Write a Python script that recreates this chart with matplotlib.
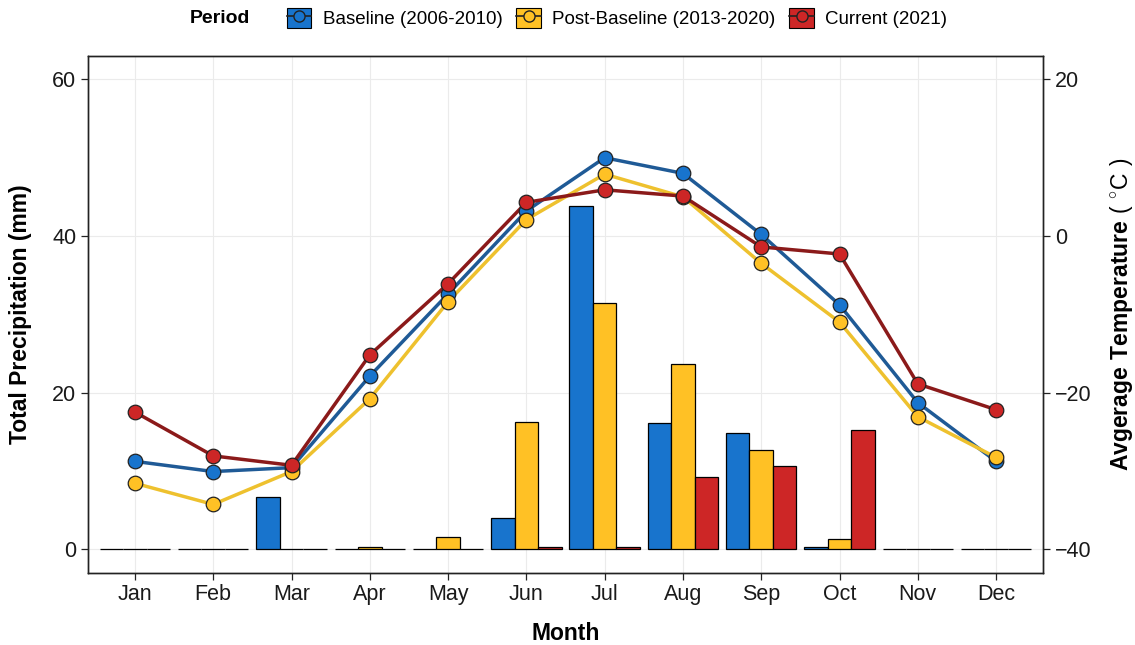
import matplotlib
matplotlib.use('Agg')
import matplotlib.pyplot as plt
from matplotlib.patches import Patch
from matplotlib.lines import Line2D
from matplotlib.legend_handler import HandlerTuple
import numpy as np

plt.rcParams['font.family'] = ['Liberation Sans', 'DejaVu Sans']
plt.rcParams['mathtext.fontset'] = 'custom'
plt.rcParams['mathtext.rm'] = 'Liberation Sans'
plt.rcParams['mathtext.bf'] = 'Liberation Sans:bold'

months = ['Jan', 'Feb', 'Mar', 'Apr', 'May', 'Jun', 'Jul', 'Aug', 'Sep', 'Oct', 'Nov', 'Dec']
periods = ['Baseline (2006-2010)', 'Post-Baseline (2013-2020)', 'Current (2021)']

# total precipitation (mm)
precip_baseline = [0, 0, 6.6, 0, 0, 4.0, 43.8, 16.1, 14.8, 0.2, 0, 0]
precip_post = [0, 0, 0, 0.3, 1.6, 16.2, 31.4, 23.6, 12.6, 1.3, 0, 0]
precip_current = [0, 0, 0, 0, 0, 0.3, 0.3, 9.2, 10.6, 15.2, 0, 0]

# average temperature (deg C)
temp_baseline = [-28.8, -30.1, -29.6, -17.9, -7.4, 3.2, 10.0, 8.0, 0.2, -8.8, -21.3, -28.8]
temp_post = [-31.6, -34.3, -30.1, -20.8, -8.4, 2.1, 7.9, 5.0, -3.5, -11.0, -23.1, -28.3]
temp_current = [-22.5, -28.1, -29.3, -15.2, -6.1, 4.3, 5.9, 5.1, -1.4, -2.3, -18.9, -22.2]

bar_colors = ['#1874CD', '#FFC125', '#CD2626']
line_colors = ['#1F5A96', '#EEC12E', '#8B1A1A']

precip = [precip_baseline, precip_post, precip_current]
temps = [temp_baseline, temp_post, temp_current]

x = np.arange(1, 13)
w = 0.3

fig = plt.figure(figsize=(11.35, 6.45), dpi=100)
ax = fig.add_axes([0.0775, 0.1124, 0.8415, 0.8008])
ax2 = ax.twinx()

for i in range(3):
    ax.bar(x + (i - 1) * w, precip[i], width=w, color=bar_colors[i],
           edgecolor='black', linewidth=0.9, zorder=2)

for i in range(3):
    ax2.plot(x, temps[i], color=line_colors[i], linewidth=2.5, zorder=3)
    ax2.scatter(x, temps[i], s=110, color=bar_colors[i], edgecolor='#222222',
                linewidth=0.9, zorder=4)

ax.set_xlim(0.4, 12.6)
ax.set_ylim(-3, 63)
ax2.set_ylim(-43, 23)
ax.set_yticks([0, 20, 40, 60])
ax2.set_yticks([-40, -20, 0, 20])
ax.set_xticks(x)
ax.set_xticklabels(months)

ax.grid(True, color='#EBEBEB', linewidth=0.8, zorder=0)
ax.set_axisbelow(True)

for a in (ax, ax2):
    a.tick_params(labelsize=15.5, length=5, width=0.9, colors='#222222', labelcolor='#1a1a1a')
    for s in a.spines.values():
        s.set_linewidth(1.0)
        s.set_color('#222222')

ax.set_xlabel('Month', fontsize=16.5, fontweight='bold')
ax.xaxis.set_label_coords(0.5, -0.095)
ax.set_ylabel('Total Precipitation (mm)', fontsize=16.5, fontweight='bold')
ax.yaxis.set_label_coords(-0.0586, 0.5)
ax2.set_ylabel(r'$\mathbf{Avgerage\ Temperature}\ (\ ^{\circ}\mathrm{C}\ )$', fontsize=16.5,
               rotation=90)
ax2.yaxis.set_label_coords(1.068, 0.5)

handles = []
for i in range(3):
    p = Patch(facecolor=bar_colors[i], edgecolor='black', linewidth=0.8)
    l = Line2D([], [], color='#222222', linewidth=1.2, marker='o', markersize=8,
               markerfacecolor=bar_colors[i], markeredgecolor='#222222')
    handles.append((p, l))

fig.legend(handles, periods, loc='center left', bbox_to_anchor=(0.2529, 0.972), ncol=3,
           frameon=False, fontsize=13.5, handlelength=1.3, handleheight=1.3,
           handletextpad=0.6, columnspacing=0.75, borderpad=0, borderaxespad=0,
           handler_map={tuple: HandlerTuple(ndivide=1)})
fig.text(0.1674, 0.972, 'Period', fontsize=14, fontweight='bold', va='center', ha='left')

fig.savefig('out.png', dpi=100)
